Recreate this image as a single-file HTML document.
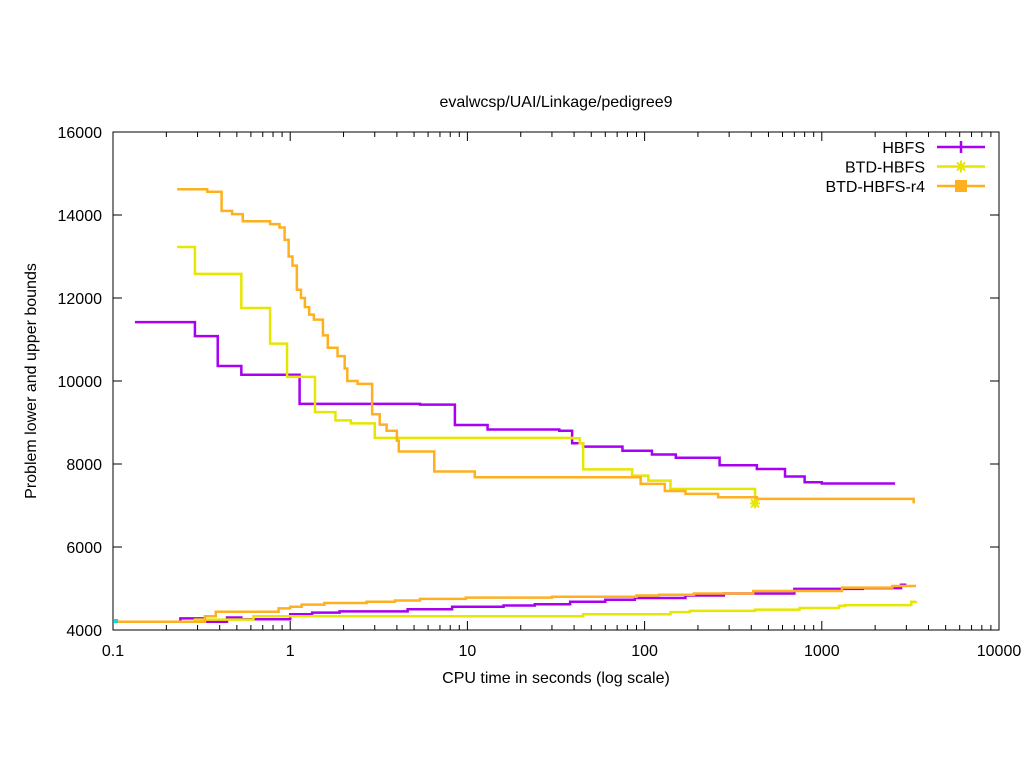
<!DOCTYPE html>
<html><head><meta charset="utf-8"><style>
body{margin:0;background:#fff}
svg{font-family:"Liberation Sans",sans-serif;font-size:16px}
</style></head><body>
<svg id="chart" width="1024" height="768">
<rect width="1024" height="768" fill="#fff"/>
<text x="556" y="107" text-anchor="middle">evalwcsp/UAI/Linkage/pedigree9</text>
<text x="556" y="683" text-anchor="middle">CPU time in seconds (log scale)</text>
<text transform="translate(36,381) rotate(-90)" text-anchor="middle">Problem lower and upper bounds</text>
<g id="ticks"></g>
<g id="series"></g>
<rect x="113" y="132" width="886" height="498" fill="none" stroke="#000" stroke-width="1"/>
<g id="legend"></g>
</svg>
<script>
const xTicks=[0.1,1,10,100,1000,10000];
const xTickLabels=["0.1","1","10","100","1000","10000"];
const yTicks=[4000,6000,8000,10000,12000,14000,16000];
const seriesNames=["HBFS","BTD-HBFS","BTD-HBFS-r4"];
const seriesColors=["#a800f0","#e6e600","#ffb020"];
const hbfsUpper=[[0.133,11420],[0.29,11080],[0.39,10360],[0.53,10150],[1.13,9450],[5.4,9430],[8.5,8940],[13,8830],[33,8800],[39,8500],[45,8420],[75,8320],[110,8230],[150,8150],[265,7970],[430,7880],[620,7700],[800,7560],[1000,7530],[2550,7500]];
const btdUpper=[[0.23,13230],[0.29,12580],[0.53,11760],[0.77,10900],[0.96,10100],[1.38,9250],[1.8,9050],[2.2,8980],[3.0,8630],[39,8620],[43,8500],[45,7870],[85,7720],[105,7600],[140,7400],[420,7050]];
const r4Upper=[[0.23,14620],[0.34,14560],[0.41,14100],[0.47,14020],[0.54,13850],[0.77,13780],[0.87,13700],[0.93,13400],[0.98,13000],[1.03,12780],[1.09,12200],[1.15,12000],[1.21,11780],[1.28,11600],[1.36,11480],[1.53,11100],[1.63,10800],[1.85,10600],[2.03,10300],[2.1,10000],[2.4,9930],[2.9,9200],[3.2,8950],[3.5,8800],[4.0,8560],[4.1,8300],[6.5,7820],[11,7680],[95,7520],[130,7350],[170,7280],[260,7200],[430,7160],[3300,7050]];
const hbfsLower=[[0.105,4200],[0.24,4280],[0.33,4200],[0.44,4300],[0.53,4260],[1.0,4380],[1.33,4420],[1.9,4450],[4.6,4500],[8.2,4560],[16,4590],[24,4620],[38,4680],[60,4730],[88,4770],[170,4830],[280,4880],[700,4990],[1700,5010],[2800,5090],[3000,5090]];
const btdLower=[[0.105,4200],[0.29,4250],[0.62,4330],[45,4380],[140,4430],[180,4460],[420,4490],[750,4530],[1250,4580],[1350,4600],[3200,4680],[3400,4700]];
const r4Lower=[[0.105,4200],[0.33,4330],[0.38,4440],[0.86,4520],[1.0,4560],[1.16,4610],[1.56,4650],[2.7,4680],[3.9,4710],[5.4,4750],[9.8,4780],[30,4800],[90,4830],[120,4850],[190,4880],[410,4940],[1300,5020],[2500,5060],[3400,5060]];
const X=t=>113+(Math.log10(t)+1)*177.2;
const Y=v=>630-(v-4000)*498/12000;
const NS="http://www.w3.org/2000/svg";
function mk(tag,attrs,parent){const e=document.createElementNS(NS,tag);for(const k in attrs)e.setAttribute(k,attrs[k]);parent.appendChild(e);return e;}
const tg=document.getElementById('ticks');
xTicks.forEach((t,i)=>{const x=X(t);
 mk('line',{x1:x,y1:630,x2:x,y2:621,stroke:'#000'},tg);mk('line',{x1:x,y1:132,x2:x,y2:141,stroke:'#000'},tg);
 if(i<xTicks.length-1)for(let m=2;m<10;m++){const xm=X(t*m);mk('line',{x1:xm,y1:630,x2:xm,y2:625,stroke:'#000'},tg);mk('line',{x1:xm,y1:132,x2:xm,y2:137,stroke:'#000'},tg);}
 const l=mk('text',{x:x,y:656,'text-anchor':'middle'},tg);l.textContent=xTickLabels[i];
 
 
});
yTicks.forEach(v=>{const y=Y(v);
 mk('line',{x1:113,y1:y,x2:122,y2:y,stroke:'#000'},tg);mk('line',{x1:999,y1:y,x2:990,y2:y,stroke:'#000'},tg);
 const l=mk('text',{x:102,y:y+6,'text-anchor':'end'},tg);l.textContent=v;
 
 
});
const sg=document.getElementById('series');
function steps(data,color,name){let d='';data.forEach((p,i)=>{const x=X(p[0]),y=Y(p[1]);if(i==0)d+='M'+x+','+y;else d+='H'+x+'V'+y;});
 const e=mk('path',{d:d,fill:'none',stroke:color,'stroke-width':2.5},sg);
 
 }
steps(hbfsLower,seriesColors[0],'hbfs-lower-bound');
steps(btdLower,seriesColors[1],'btd-hbfs-lower-bound');
steps(r4Lower,seriesColors[2],'btd-hbfs-r4-lower-bound');
steps(hbfsUpper,seriesColors[0],'hbfs-upper-bound');
steps(btdUpper,seriesColors[1],'btd-hbfs-upper-bound');
steps(r4Upper,seriesColors[2],'btd-hbfs-r4-upper-bound');
const last=btdUpper[btdUpper.length-1];
const mx=X(last[0]),my=Y(last[1]);
const mkr=mk('path',{d:`M${mx-5},${my}H${mx+5}M${mx},${my-5}V${my+5}M${mx-4},${my-4}L${mx+4},${my+4}M${mx-4},${my+4}L${mx+4},${my-4}`,stroke:seriesColors[1],'stroke-width':2},sg);


const cy=mk('rect',{x:114,y:619,width:4,height:4,fill:'#00e0e0'},sg);


const lg=document.getElementById('legend');
seriesNames.forEach((n,i)=>{const y=147+i*19.5;
 const t=mk('text',{x:925,y:y+6,'text-anchor':'end'},lg);t.textContent=n;
 
 
 const l=mk('line',{x1:937,y1:y,x2:985,y2:y,stroke:seriesColors[i],'stroke-width':2.5},lg);
 
 
 if(i==0)mk('line',{x1:961,y1:y-6,x2:961,y2:y+6,stroke:seriesColors[i],'stroke-width':2.5},lg);
 if(i==1)mk('path',{d:`M955,${y}H967M961,${y-6}V${y+6}M957,${y-4}L965,${y+4}M957,${y+4}L965,${y-4}`,stroke:seriesColors[i],'stroke-width':2},lg);
 if(i==2)mk('rect',{x:955,y:y-6,width:12,height:12,fill:seriesColors[i]},lg);
});
</script>
</body></html>
